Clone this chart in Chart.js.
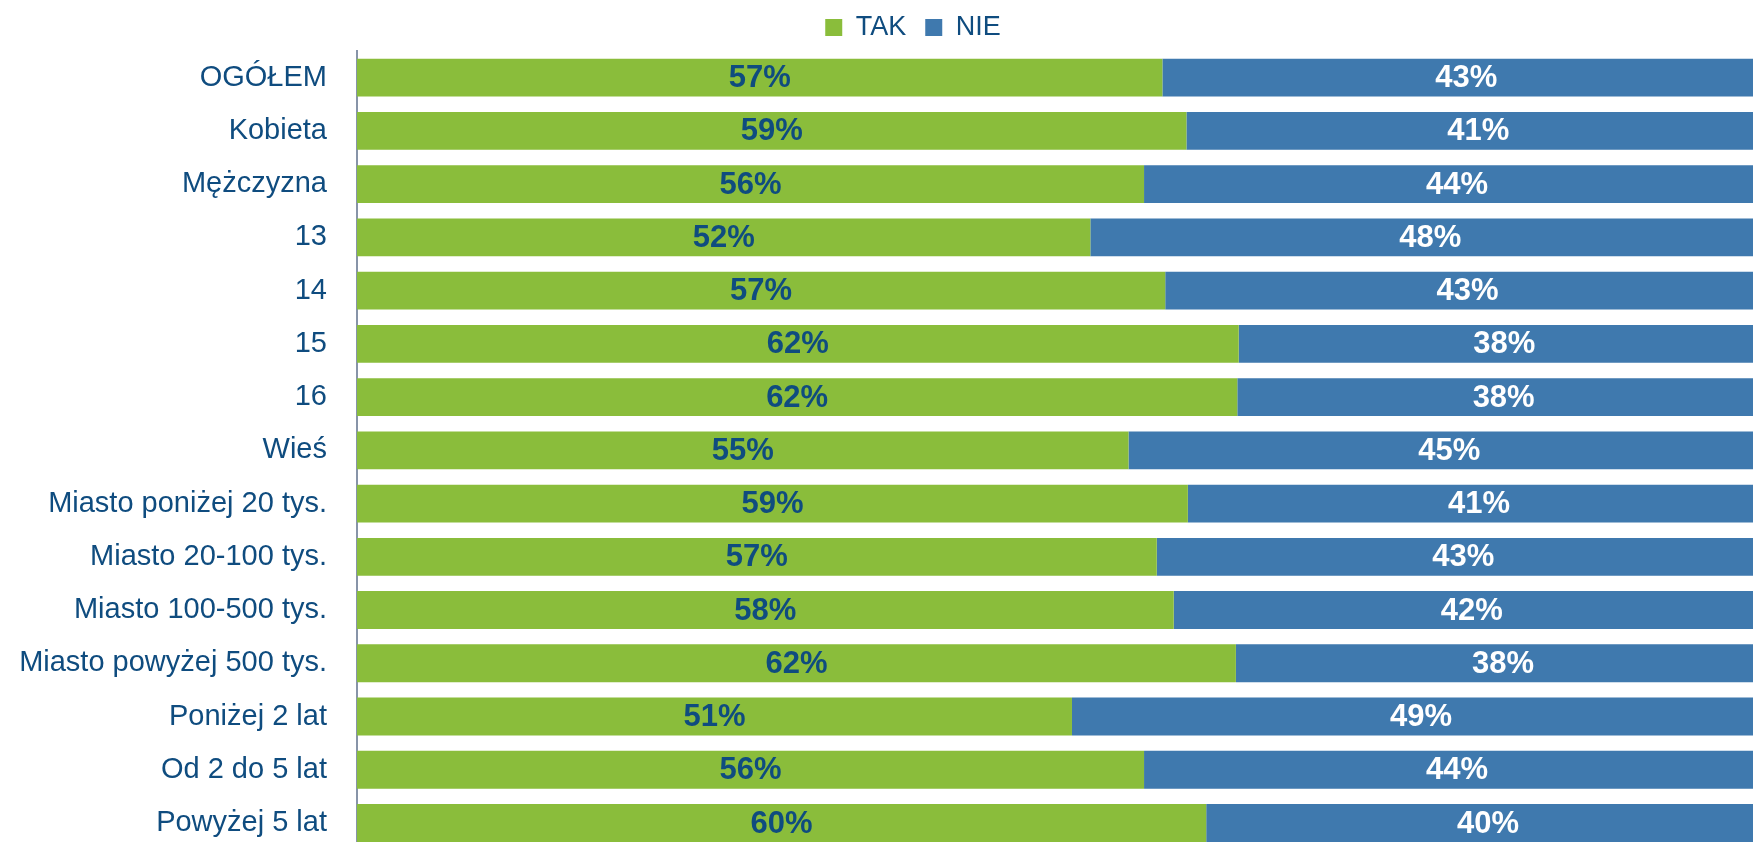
<!DOCTYPE html>
<html>
<head>
<meta charset="utf-8">
<script src="https://cdn.jsdelivr.net/npm/chart.js@4.4.1/dist/chart.umd.min.js"></script>
<style>
  html, body { margin: 0; padding: 0; background: #fff; overflow: hidden; }
  canvas { display: block; }
</style>
</head>
<body>
<canvas id="barChart" width="1814" height="889"></canvas>
<script>
const categories = ['OGÓŁEM', 'Kobieta', 'Mężczyzna', '13', '14', '15', '16', 'Wieś',
  'Miasto poniżej 20 tys.', 'Miasto 20-100 tys.', 'Miasto 100-500 tys.', 'Miasto powyżej 500 tys.',
  'Poniżej 2 lat', 'Od 2 do 5 lat', 'Powyżej 5 lat'];
const tak = [57.0, 58.7, 55.7, 51.9, 57.2, 62.4, 62.3, 54.6, 58.8, 56.6, 57.8, 62.2, 50.6, 55.7, 60.1];
const nie = [43.0, 41.3, 44.3, 48.1, 42.8, 37.6, 37.7, 45.4, 41.2, 43.4, 42.2, 37.8, 49.4, 44.3, 39.9];

const textBlue = '#0f4c7f';

// draws the % values in the middle of each bar segment
const valueLabels = {
  id: 'valueLabels',
  afterLayout(chart) {
    // legend in the original sits a bit right of the canvas centre
    chart.legend.left += 28;
    chart.legend.right += 28;
  },
  afterDatasetsDraw(chart) {
    const ctx = chart.ctx;
    ctx.save();
    ctx.font = 'bold 31px "Liberation Sans", Arial, sans-serif';
    ctx.textAlign = 'center';
    ctx.textBaseline = 'middle';
    chart.data.datasets.forEach((ds, i) => {
      ctx.fillStyle = i === 0 ? textBlue : '#ffffff';
      chart.getDatasetMeta(i).data.forEach((bar, j) => {
        const left = Math.min(bar.x, bar.base);
        const right = Math.max(bar.x, bar.base);
        ctx.fillText(Math.round(ds.data[j]) + '%', (left + right) / 2, bar.y + 1);
      });
    });
    ctx.restore();
  }
};

const ctx = document.getElementById('barChart').getContext('2d');
new Chart(ctx, {
  type: 'bar',
  data: {
    labels: categories,
    datasets: [{
      label: 'TAK',
      data: tak,
      backgroundColor: '#8abd3b',
      borderWidth: 0,
      barPercentage: 0.71,
      categoryPercentage: 1
    }, {
      label: 'NIE',
      data: nie,
      backgroundColor: '#3f79ae',
      borderWidth: 0,
      barPercentage: 0.71,
      categoryPercentage: 1
    }]
  },
  options: {
    indexAxis: 'y',
    responsive: false,
    animation: false,
    layout: { padding: { left: 0, top: -5, right: 44, bottom: 0 } },
    scales: {
      x: {
        stacked: true,
        display: false,
        min: 0,
        max: 100
      },
      y: {
        stacked: true,
        grid: { display: false },
        border: { display: true, color: '#8794a8', width: 2 },
        ticks: {
          color: textBlue,
          padding: 22,
          font: { family: '"Liberation Sans", Arial, sans-serif', size: 29 }
        },
        afterFit(scale) { scale.width = 357; }
      }
    },
    plugins: {
      legend: {
        display: true,
        position: 'top',
        labels: {
          boxWidth: 17,
          boxHeight: 17,
          padding: 19,
          color: textBlue,
          font: { family: '"Liberation Sans", Arial, sans-serif', size: 27 }
        }
      },
      tooltip: { enabled: false }
    }
  },
  plugins: [valueLabels]
});
</script>
</body>
</html>
